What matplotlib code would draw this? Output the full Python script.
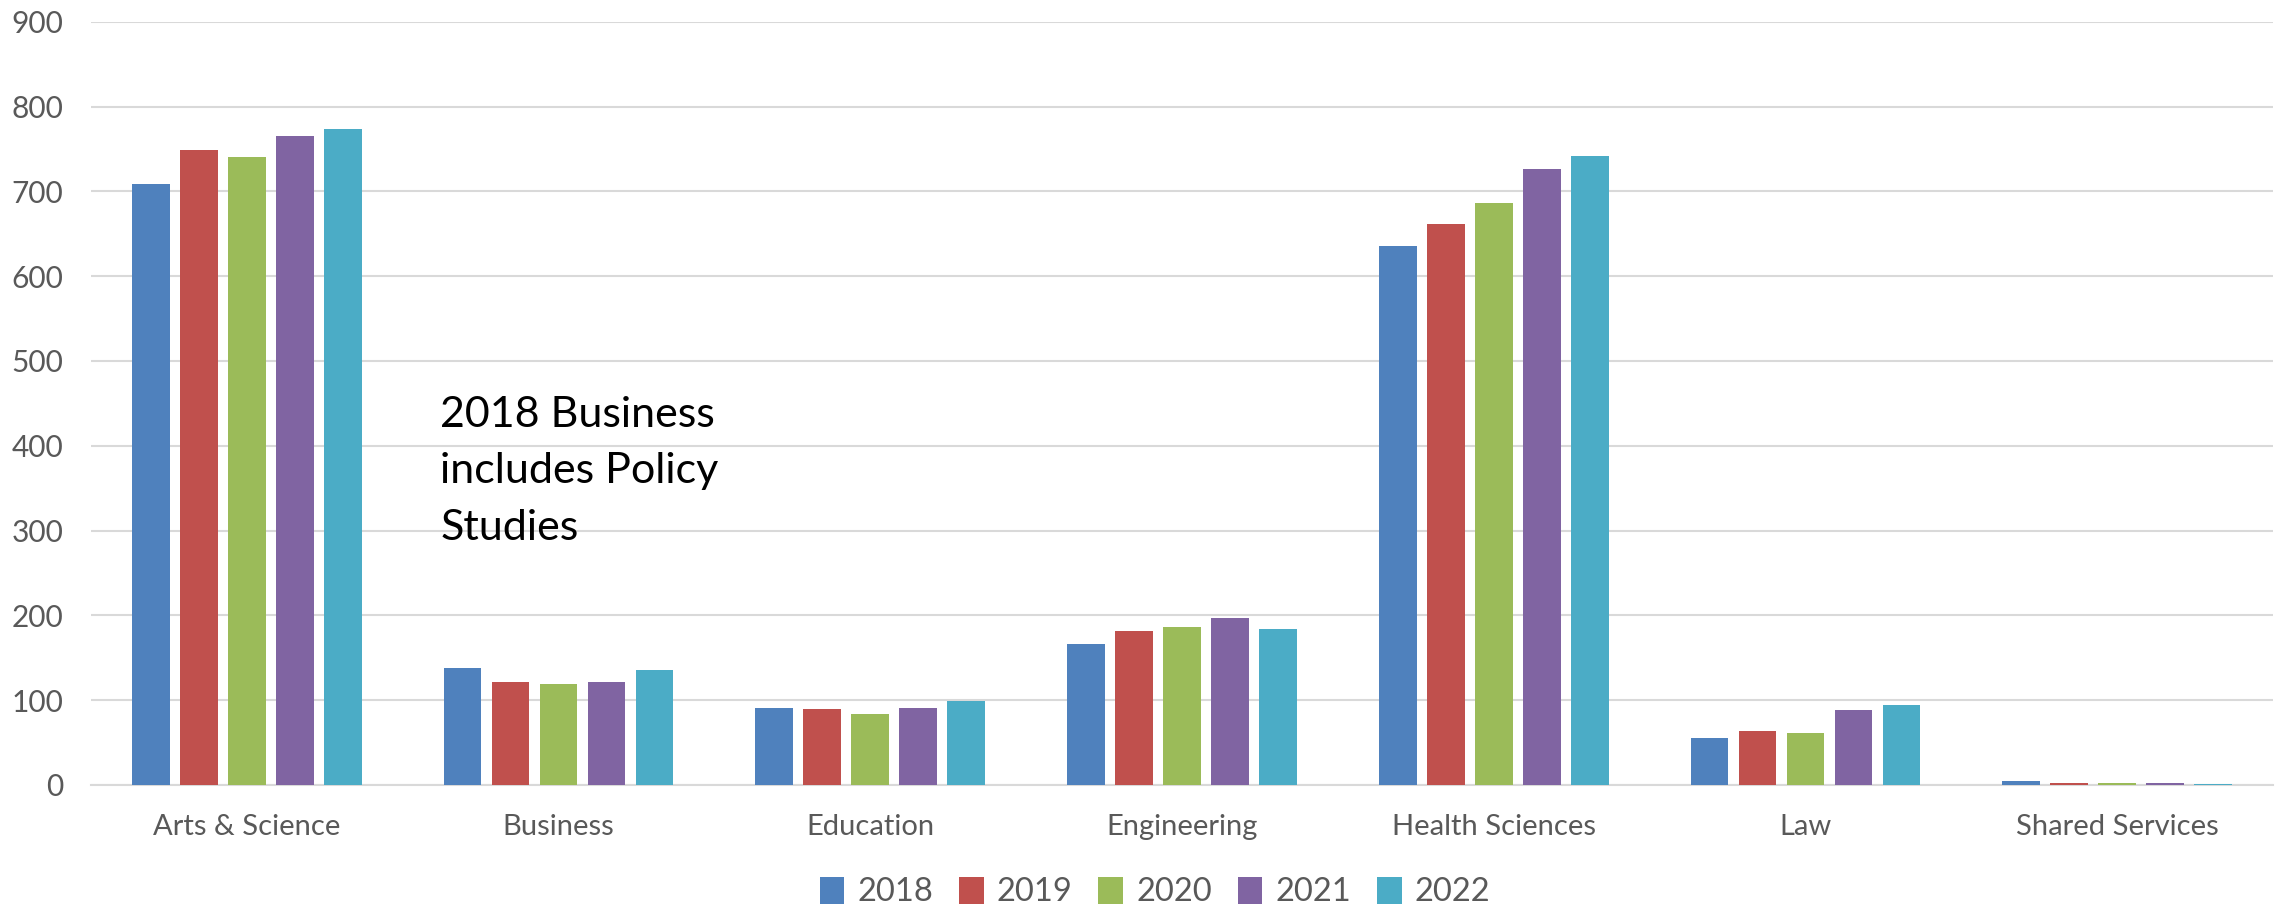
import numpy as np
from matplotlib import pyplot as plt

categories = ["Arts & Science", "Business", "Education", "Engineering",
              "Health Sciences", "Law", "Shared Services"]
years = ["2018", "2019", "2020", "2021", "2022"]

vals_2018 = [709, 138, 91, 166, 635, 55, 5]
vals_2019 = [749, 121, 90, 182, 662, 64, 2.5]
vals_2020 = [740, 119, 84, 186, 686, 61, 2.5]
vals_2021 = [765, 121, 91, 197, 726, 88, 2.5]
vals_2022 = [774, 136, 99, 184, 742, 94, 1.5]

colors = ["#4F81BD", "#C0504D", "#9BBB59", "#8064A2", "#4BACC6"]
note = "2018 Business\nincludes Policy\nStudies"

plt.rcParams['font.family'] = ['Lato', 'DejaVu Sans']

fig = plt.figure(figsize=(22.8, 9.13), dpi=100)
ax = fig.add_axes([0.0399, 0.1402, 0.957, 0.836])

x = np.arange(len(categories))
pitch = 0.154
width = 0.121
series = [vals_2018, vals_2019, vals_2020, vals_2021, vals_2022]
for i in range(len(series)):
    ax.bar(x + (i - 2) * pitch, series[i], width, color=colors[i], label=years[i], zorder=3)

ax.set_xlim(-0.5, len(categories) - 0.5)
ax.set_ylim(0, 900)
ax.set_yticks(np.arange(0, 901, 100))
ax.set_xticks(x)
ax.set_xticklabels(categories)

# light horizontal grid, no frame
ax.grid(axis='y', color='#D9D9D9', linewidth=1.5, zorder=0)
for s in ["top", "right", "left"]:
    ax.spines[s].set_visible(False)
ax.spines["bottom"].set_color('#D9D9D9')
ax.spines["bottom"].set_linewidth(1.5)
ax.tick_params(axis='y', length=0, pad=20, labelsize=21.5, labelcolor='#595959')
ax.tick_params(axis='x', length=0, pad=21, labelsize=21, labelcolor='#595959')

ax.text(0.62, 459, note, fontsize=31, color='black', va='top', ha='left',
        linespacing=1.6)

fig.legend(loc='center', bbox_to_anchor=(1155 / 2280, 1 - 892 / 913), ncol=5,
           frameon=False, fontsize=23.5, labelcolor='#595959', handlelength=0.75,
           handleheight=0.9, handletextpad=0.4, columnspacing=0.8)

fig.savefig("out.png", dpi=100)
plt.close()
